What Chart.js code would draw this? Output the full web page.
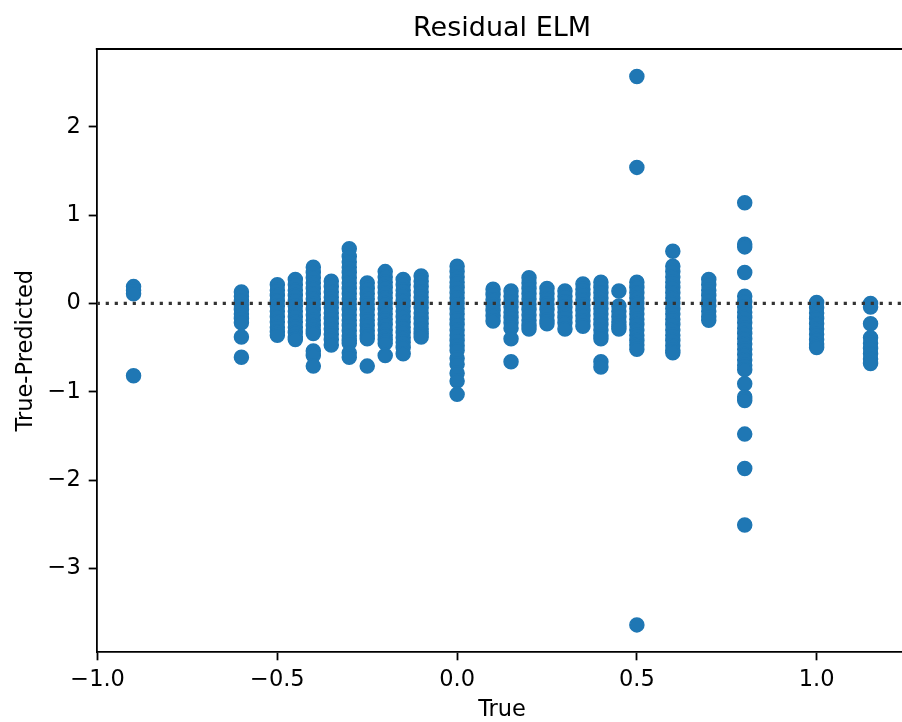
<!DOCTYPE html>
<html>
<head>
<meta charset="utf-8">
<title>Residual ELM</title>
<script src="https://cdn.jsdelivr.net/npm/chart.js@4.4.1/dist/chart.umd.min.js"></script>
<style>
    html, body { margin: 0; padding: 0; background: #fff; overflow: hidden; }
    #wrap { position: relative; width: 902px; height: 722px; }
</style>
</head>
<body>
<div id="wrap"><canvas id="resid"></canvas></div>
<script>
// x positions of the columns ("True")
const trueX = [-0.9, -0.6, -0.5, -0.45, -0.4, -0.35, -0.3, -0.25, -0.2, -0.15, -0.1,
    0.0, 0.1, 0.15, 0.2, 0.25, 0.3, 0.35, 0.4, 0.45, 0.5, 0.6, 0.7, 0.8, 1.0, 1.15];

// residuals (True-Predicted), same order as trueX
const residuals = [
    [0.19, 0.15, 0.11, -0.82],
    [0.13, 0.08, 0.03, -0.02, -0.07, -0.12, -0.17, -0.22, -0.38, -0.61],
    [0.21, 0.15, 0.09, 0.03, -0.03, -0.09, -0.15, -0.21, -0.27, -0.32, -0.36],
    [0.27, 0.21, 0.15, 0.09, 0.03, -0.03, -0.09, -0.15, -0.21, -0.27, -0.33, -0.38, -0.41],
    [0.41, 0.35, 0.29, 0.23, 0.17, 0.11, 0.05, -0.01, -0.07, -0.13, -0.19, -0.25, -0.30, -0.34, -0.54, -0.59, -0.71],
    [0.25, 0.19, 0.13, 0.07, 0.01, -0.05, -0.11, -0.17, -0.23, -0.29, -0.35, -0.41, -0.47],
    [0.62, 0.53, 0.47, 0.41, 0.35, 0.29, 0.23, 0.17, 0.11, 0.05, -0.01, -0.07, -0.13, -0.19, -0.25, -0.31, -0.37, -0.42, -0.45, -0.56, -0.61],
    [0.23, 0.17, 0.11, 0.05, -0.01, -0.07, -0.13, -0.19, -0.25, -0.31, -0.36, -0.40, -0.71],
    [0.36, 0.30, 0.24, 0.18, 0.12, 0.06, 0.00, -0.06, -0.12, -0.18, -0.24, -0.30, -0.36, -0.41, -0.45, -0.59],
    [0.27, 0.21, 0.15, 0.09, 0.03, -0.03, -0.09, -0.15, -0.21, -0.27, -0.33, -0.39, -0.44, -0.50, -0.57],
    [0.31, 0.25, 0.19, 0.13, 0.07, 0.01, -0.05, -0.11, -0.17, -0.23, -0.29, -0.34, -0.38],
    [0.42, 0.36, 0.30, 0.24, 0.18, 0.12, 0.06, 0.00, -0.06, -0.12, -0.18, -0.24, -0.30, -0.36, -0.42, -0.48, -0.53, -0.62, -0.69, -0.79, -0.88, -1.03],
    [0.16, 0.10, 0.04, -0.02, -0.08, -0.14, -0.20],
    [0.14, 0.08, 0.02, -0.04, -0.10, -0.16, -0.22, -0.28, -0.40, -0.66],
    [0.29, 0.23, 0.17, 0.11, 0.05, -0.01, -0.07, -0.13, -0.19, -0.25, -0.29],
    [0.17, 0.11, 0.05, -0.01, -0.07, -0.13, -0.19, -0.23],
    [0.14, 0.08, 0.02, -0.04, -0.10, -0.16, -0.22, -0.29],
    [0.22, 0.16, 0.10, 0.04, -0.02, -0.08, -0.14, -0.20, -0.26],
    [0.24, 0.18, 0.12, 0.06, 0.00, -0.06, -0.12, -0.18, -0.24, -0.30, -0.36, -0.40, -0.66, -0.72],
    [0.14, -0.03, -0.09, -0.15, -0.21, -0.26, -0.29],
    [2.57, 1.54, 0.24, 0.18, 0.12, 0.06, 0.00, -0.06, -0.12, -0.18, -0.24, -0.30, -0.36, -0.42, -0.47, -0.52, -3.64],
    [0.59, 0.42, 0.36, 0.30, 0.24, 0.18, 0.12, 0.06, 0.00, -0.06, -0.12, -0.18, -0.24, -0.30, -0.36, -0.42, -0.48, -0.53, -0.56],
    [0.27, 0.21, 0.15, 0.09, 0.03, -0.03, -0.09, -0.15, -0.19],
    [1.14, 0.67, 0.64, 0.35, 0.08, 0.02, -0.04, -0.10, -0.16, -0.22, -0.28, -0.34, -0.40, -0.46, -0.52, -0.58, -0.64, -0.70, -0.75, -0.91, -1.06, -1.10, -1.48, -1.87, -2.51],
    [0.01, -0.05, -0.11, -0.17, -0.23, -0.29, -0.35, -0.41, -0.46, -0.50],
    [0.00, -0.04, -0.23, -0.39, -0.45, -0.51, -0.57, -0.63, -0.68]
];

const xTicks = [-1.0, -0.5, 0.0, 0.5, 1.0];
const yTicks = [-3, -2, -1, 0, 1, 2];

const FONT = "'DejaVu Sans', sans-serif";
const minus = s => s.replace("-", "\u2212");

const points = [];
trueX.forEach((x, i) => residuals[i].forEach(r => points.push({ x: x, y: r })));

// matplotlib style 5% margins
const allY = points.map(p => p.y);
const xMin = Math.min(...trueX), xMax = Math.max(...trueX);
const yMin = Math.min(...allY), yMax = Math.max(...allY);
const xPad = (xMax - xMin) * 0.05, yPad = (yMax - yMin) * 0.05;
const xLo = xMin - xPad, xHi = xMax + xPad;

// the figure is cropped: the axes would end at 907.4px but the image stops at 902px
const AX_LEFT = 96.7, AX_RIGHT = 907.4, FIG_W = 902;
const xCut = xLo + (xHi - xLo) * (FIG_W - AX_LEFT) / (AX_RIGHT - AX_LEFT);

// top spine + title + x label centred on the full (uncropped) axes
const decor = {
    id: "decor",
    afterDraw(chart) {
        const { ctx, chartArea, scales } = chart;
        const cx = (chartArea.left + scales.x.getPixelForValue(xHi)) / 2;
        ctx.save();
        ctx.strokeStyle = "#000";
        ctx.lineWidth = 1.8;
        ctx.beginPath();
        ctx.moveTo(chartArea.left - 0.9, chartArea.top);
        ctx.lineTo(chartArea.right, chartArea.top);
        ctx.stroke();

        ctx.fillStyle = "#000";
        ctx.textAlign = "center";
        ctx.textBaseline = "alphabetic";
        ctx.font = "27px " + FONT;
        ctx.fillText("Residual ELM", cx, chartArea.top - 13.4);
        ctx.font = "22.5px " + FONT;
        ctx.fillText("True", cx, chartArea.bottom + 63.4);
        ctx.restore();
    }
};

new Chart(document.getElementById("resid"), {
    type: "scatter",
    data: {
        datasets: [
            {
                type: "line",
                data: [{ x: xLo, y: 0 }, { x: xHi, y: 0 }],
                borderColor: "#333333",
                borderWidth: 3.2,
                borderDash: [3.2, 5.8],
                pointRadius: 0,
                order: 0,
            },
            {
                data: points,
                backgroundColor: "#1f77b4",
                borderColor: "#1f77b4",
                borderWidth: 1.5,
                pointRadius: 7,
                order: 1,
            },
        ],
    },
    options: {
        responsive: true,
        maintainAspectRatio: false,
        animation: false,
        events: [],
        layout: { autoPadding: false, padding: { left: 0, right: 0, top: 49, bottom: 0 } },
        plugins: {
            legend: { display: false },
            tooltip: { enabled: false },
            title: { display: false },
        },
        scales: {
            x: {
                type: "linear",
                min: xLo,
                max: xCut,
                afterBuildTicks: s => { s.ticks = xTicks.map(v => ({ value: v })); },
                afterFit: s => {
                    s.height = 69.7;
                    s.paddingLeft = 0;
                    s.paddingRight = 0;
                },
                ticks: {
                    color: "#000",
                    font: { family: FONT, size: 22.5 },
                    padding: 6.5,
                    maxRotation: 0,
                    callback: v => minus(v.toFixed(1)),
                },
                grid: {
                    drawOnChartArea: false,
                    tickLength: 8,
                    tickWidth: 1.8,
                    tickColor: "#000",
                },
                border: { display: true, color: "#000", width: 1.8 },
            },
            y: {
                type: "linear",
                min: yMin - yPad,
                max: yMax + yPad,
                afterBuildTicks: s => { s.ticks = yTicks.map(v => ({ value: v })); },
                afterFit: s => { s.width = AX_LEFT; },
                ticks: {
                    color: "#000",
                    font: { family: FONT, size: 22.5 },
                    padding: 8,
                    callback: v => minus(String(v)),
                },
                grid: {
                    drawOnChartArea: false,
                    tickLength: 8,
                    tickWidth: 1.8,
                    tickColor: "#000",
                },
                border: { display: true, color: "#000", width: 1.8 },
                title: {
                    display: true,
                    text: "True-Predicted",
                    color: "#000",
                    font: { family: FONT, size: 22.5 },
                    padding: { top: 12.4, bottom: 0 },
                },
            },
        },
    },
    plugins: [decor],
});
</script>
</body>
</html>
